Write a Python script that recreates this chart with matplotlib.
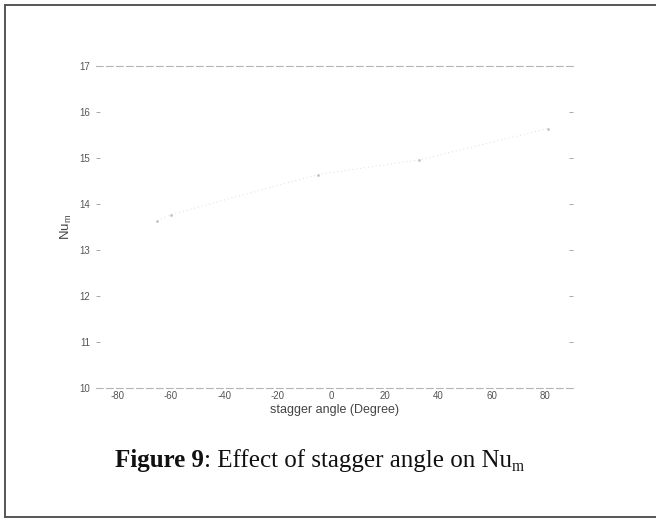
import matplotlib
matplotlib.use("Agg")
import matplotlib.pyplot as plt
from matplotlib.lines import Line2D

plt.rcParams['mathtext.fontset'] = 'custom'
plt.rcParams['mathtext.sf'] = 'Liberation Sans'
plt.rcParams['axes.unicode_minus'] = False

# Mean Nusselt number against stagger angle
stagger_angle = [-65, -60, -5, 33, 81]
nu_m = [13.63, 13.77, 14.64, 14.96, 15.64]

x_ticks = [-80, -60, -40, -20, 0, 20, 40, 60, 80]
y_ticks = [10, 11, 12, 13, 14, 15, 16, 17]

W, H = 656, 520
fig = plt.figure(figsize=(W / 100, H / 100), dpi=100)
fig.patch.set_facecolor('white')

left, right, top, bottom = 96, 573, 66, 388
ax = fig.add_axes([left / W, 1 - bottom / H, (right - left) / W, (bottom - top) / H])
ax.plot(stagger_angle, nu_m, color='#dcdcdc', lw=0.7, ls=(0, (1, 3)),
        marker='.', ms=2, mec='#c4c4c4', mfc='#c4c4c4')

ax.set_xlim(-88, 90.5)
ax.set_ylim(10, 17)
ax.set_xticks(x_ticks)
ax.set_yticks(y_ticks)
ax.tick_params(axis='both', direction='in', length=3, width=0.6,
               color='#9a9a9a', labelsize=7, labelcolor='#555555',
               right=True, top=False, bottom=False, pad=4)
ax.tick_params(axis='x', pad=2)
for lab in ax.get_xticklabels() + ax.get_yticklabels():
    lab.set_fontfamily('Liberation Sans')

for side in ('left', 'right'):
    ax.spines[side].set_visible(False)
for side in ('top', 'bottom'):
    ax.spines[side].set_color('#b4b4b4')
    ax.spines[side].set_linewidth(0.8)
    ax.spines[side].set_linestyle((0, (6, 3)))

ax.set_xlabel('stagger angle (Degree)', fontfamily='Liberation Sans',
              fontsize=9, color='#444444', labelpad=2.5)
ax.set_ylabel(r'$\mathsf{Nu}_\mathsf{m}$', fontsize=9.5, color='#444444',
              labelpad=4)

# caption below the plot: bold label, plain text, subscript
cap_size = 18
base_y = 467
t1 = fig.text(115 / W, 1 - base_y / H, 'Figure 9', fontfamily='Liberation Serif',
              fontweight='bold', fontsize=cap_size, color='#111111',
              ha='left', va='baseline')
t2 = fig.text(0, 0, ': Effect of stagger angle on Nu', fontfamily='Liberation Serif',
              fontsize=cap_size, color='#111111', ha='left', va='baseline')
fig.canvas.draw()
r = fig.canvas.get_renderer()
b1 = t1.get_window_extent(r)
t2.set_position((b1.x1 / W, 1 - base_y / H))
fig.canvas.draw()
b2 = t2.get_window_extent(r)
fig.text(b2.x1 / W, (H - base_y - 4) / H, 'm', fontfamily='Liberation Serif',
         fontsize=cap_size * 0.62, color='#111111', ha='left', va='baseline')

# page frame around the figure
frame = dict(color='#555555', lw=1.4, transform=fig.transFigure)
fig.add_artist(Line2D([5 / W, 1], [1 - 5 / H, 1 - 5 / H], **frame))
fig.add_artist(Line2D([5 / W, 5 / W], [1 - 5 / H, 1 - 517 / H], **frame))
fig.add_artist(Line2D([5 / W, 1], [1 - 517 / H, 1 - 517 / H], **frame))

fig.savefig('out.png', dpi=100, facecolor='white')
